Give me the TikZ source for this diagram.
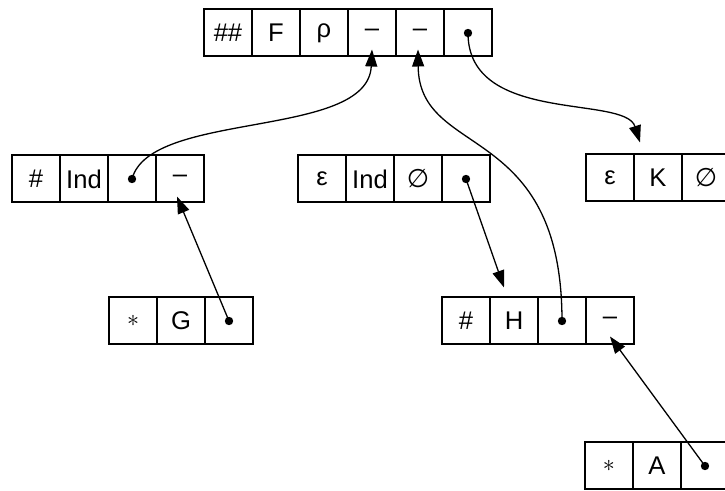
\documentclass[tikz,border=0pt]{standalone}
\usepackage{fontspec}
\setmainfont{Liberation Sans}
\newfontfamily\symfont{DejaVu Sans}
\usetikzlibrary{positioning,arrows.meta}

\tikzset{
    cell/.style={draw, line width=1pt, minimum width=24pt, minimum height=23.5pt,
        inner sep=0pt, outer sep=0pt, font=\fontsize{12.8}{15}\selectfont},
    link/.style={line width=0.65pt, -{Triangle[length=8.5pt,width=6pt]}},
}
\newcommand{\refdot}[1]{\fill (#1.center) circle (2.1pt);}
\newcommand{\emptyref}{{\symfont ∅}}
\newcommand{\markref}{{\fontsize{13}{14}\selectfont$\ast$}}

\begin{document}
\begin{tikzpicture}[x=0.5pt, y=-0.5pt]
    \useasboundingbox (0,0) rectangle (725,491);
    %% top record
    \node[cell, anchor=west] (t1) at (204,33) {\#\#};
    \node[cell, right=0pt of t1] (t2) {F};
    \node[cell, right=0pt of t2] (t3) {ρ};
    \node[cell, right=0pt of t3] (t4) {–};
    \node[cell, right=0pt of t4] (t5) {–};
    \node[cell, right=0pt of t5] (t6) {};
    %% second row
    \node[cell, anchor=west] (l1) at (12,179) {\#};
    \node[cell, right=0pt of l1] (l2) {Ind};
    \node[cell, right=0pt of l2] (l3) {};
    \node[cell, right=0pt of l3] (l4) {–};
    \node[cell, anchor=west] (m1) at (298,179) {ε};
    \node[cell, right=0pt of m1] (m2) {Ind};
    \node[cell, right=0pt of m2] (m3) {\emptyref};
    \node[cell, right=0pt of m3] (m4) {};
    \node[cell, anchor=west] (r1) at (586,178) {ε};
    \node[cell, right=0pt of r1] (r2) {K};
    \node[cell, right=0pt of r2] (r3) {\emptyref};
    %% third row
    \node[cell, anchor=west] (g1) at (109,321) {\markref};
    \node[cell, right=0pt of g1] (g2) {G};
    \node[cell, right=0pt of g2] (g3) {};
    \node[cell, anchor=west] (h1) at (442,321) {\#};
    \node[cell, right=0pt of h1] (h2) {H};
    \node[cell, right=0pt of h2] (h3) {};
    \node[cell, right=0pt of h3] (h4) {–};
    %% bottom record
    \node[cell, anchor=west] (a1) at (585,466) {\markref};
    \node[cell, right=0pt of a1] (a2) {A};
    \node[cell, right=0pt of a2] (a3) {};
    % pointer dots
    \refdot{t6} \refdot{l3} \refdot{m4} \refdot{g3} \refdot{h3} \refdot{a3}
    % links
    \draw[link] (l3.center) .. controls +(18,-69) and +(-4,90) .. ([yshift=3.5pt]t4.south);
    \draw[link] (g3.center) -- ([xshift=-1.5pt,yshift=3pt]l4.south);
    \draw[link] (m4.center) -- ([xshift=-5pt,yshift=5pt]h2.north);
    \draw[link] (h3.center) .. controls +(0,-201) and +(1,110) .. ([xshift=-1pt,yshift=3.5pt]t5.south);
    \draw[link] (t6.center) .. controls +(0,92) and +(-15,-48) .. ([xshift=-9pt,yshift=6pt]r2.north);
    \draw[link] (a3.center) -- ([yshift=4pt]h4.south);
\end{tikzpicture}
\end{document}
